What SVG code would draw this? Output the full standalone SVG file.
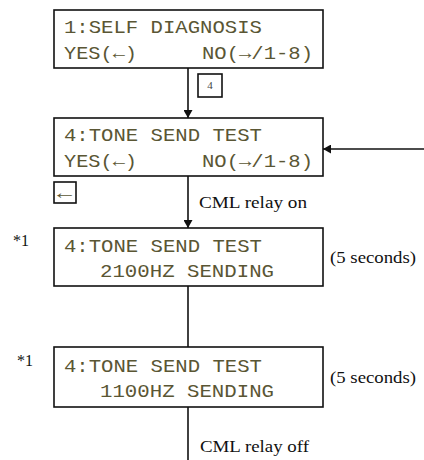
<svg xmlns="http://www.w3.org/2000/svg" width="424" height="460" viewBox="0 0 424 460">
<defs>
<marker id="ah" markerWidth="8" markerHeight="9" refX="8" refY="4.5" orient="auto" markerUnits="userSpaceOnUse">
<path d="M0,0 L8,4.5 L0,9 Z" fill="#111"/>
</marker>
</defs>
<style>
.box{fill:#fff;stroke:#111;stroke-width:1.6}
.mono{font-family:"Liberation Mono","DejaVu Sans Mono",monospace;font-size:19px;fill:#5a5634}
.ser{font-family:"Liberation Serif","DejaVu Serif",serif;font-size:16px;fill:#111}
.small{font-family:"Liberation Serif","DejaVu Serif",serif;font-size:11px;fill:#444}
.line{stroke:#111;stroke-width:1.6;fill:none}
</style>
<rect width="424" height="460" fill="#fff"/>
<g id="connectors">
<line class="line" x1="188" y1="68" x2="188" y2="118" marker-end="url(#ah)"/>
<line class="line" x1="188" y1="176" x2="188" y2="228" marker-end="url(#ah)"/>
<line class="line" x1="188" y1="286" x2="188" y2="347"/>
<line class="line" x1="188" y1="407" x2="188" y2="460"/>
<line class="line" x1="424" y1="149" x2="323" y2="149" marker-end="url(#ah)"/>
<rect x="198" y="74" width="24" height="23" class="box"/>
<text x="210" y="89" text-anchor="middle" class="small">4</text>
<text x="199" y="208" class="ser" textLength="108" lengthAdjust="spacingAndGlyphs">CML relay on</text>
<text x="200" y="452" class="ser" textLength="109" lengthAdjust="spacingAndGlyphs">CML relay off</text>
</g>
<g id="n1">
<rect x="54" y="10" width="269" height="58" class="box"/>
<text x="64" y="33" class="mono" textLength="198" lengthAdjust="spacingAndGlyphs">1:SELF DIAGNOSIS</text>
<text x="64" y="59" class="mono" textLength="73" lengthAdjust="spacingAndGlyphs">YES(←)</text>
<text x="202" y="59" class="mono" textLength="111" lengthAdjust="spacingAndGlyphs">NO(→/1-8)</text>
</g>
<g id="n2">
<rect x="54" y="118" width="269" height="58" class="box"/>
<text x="64" y="141" class="mono" textLength="198" lengthAdjust="spacingAndGlyphs">4:TONE SEND TEST</text>
<text x="64" y="167" class="mono" textLength="73" lengthAdjust="spacingAndGlyphs">YES(←)</text>
<text x="202" y="167" class="mono" textLength="111" lengthAdjust="spacingAndGlyphs">NO(→/1-8)</text>
</g>
<g id="yeskey">
<rect x="54" y="182" width="22" height="21" class="box"/>
<text x="57" y="199" class="mono" font-size="18" textLength="15" lengthAdjust="spacingAndGlyphs">←</text>
</g>
<g id="n3">
<rect x="54" y="228" width="269" height="58" class="box"/>
<text x="64" y="252" class="mono" textLength="198" lengthAdjust="spacingAndGlyphs">4:TONE SEND TEST</text>
<text x="100" y="277" class="mono" textLength="174" lengthAdjust="spacingAndGlyphs">2100HZ SENDING</text>
<text x="13" y="246" class="ser" font-size="14">*1</text>
<text x="330" y="263" class="ser" textLength="86" lengthAdjust="spacingAndGlyphs">(5 seconds)</text>
</g>
<g id="n4">
<rect x="54" y="347" width="269" height="60" class="box"/>
<text x="64" y="372" class="mono" textLength="198" lengthAdjust="spacingAndGlyphs">4:TONE SEND TEST</text>
<text x="100" y="397" class="mono" textLength="174" lengthAdjust="spacingAndGlyphs">1100HZ SENDING</text>
<text x="17" y="366" class="ser" font-size="14">*1</text>
<text x="330" y="383" class="ser" textLength="86" lengthAdjust="spacingAndGlyphs">(5 seconds)</text>
</g>
</svg>
